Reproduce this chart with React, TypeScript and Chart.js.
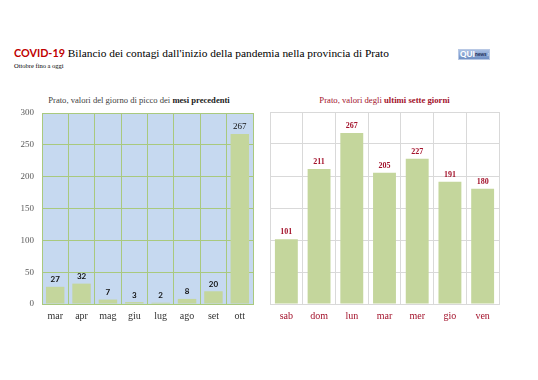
import React, { useEffect, useRef } from "react";
import { Chart, registerables } from "chart.js";
Chart.register(...registerables);

const monthLabels = ["mar", "apr", "mag", "giu", "lug", "ago", "set", "ott"];
const monthValues = [27, 32, 7, 3, 2, 8, 20, 267];
const dayLabels = ["sab", "dom", "lun", "mar", "mer", "gio", "ven"];
const dayValues = [101, 211, 267, 205, 227, 191, 180];
const yMax = 300;
const yStep = 50;

const SERIF = "'Liberation Serif', 'DejaVu Serif', serif";
const SANS = "Lato, 'Liberation Sans', sans-serif";
const RED = "#a3122b";
const BAR = "#c4d69c";

const plotBg = {
  id: "plotBg",
  beforeDraw(chart: any, _a: any, opts: any) {
    if (!opts || !opts.color) return;
    const { ctx, chartArea } = chart;
    ctx.save();
    ctx.fillStyle = opts.color;
    ctx.fillRect(chartArea.left, chartArea.top, chartArea.right - chartArea.left, chartArea.bottom - chartArea.top);
    ctx.restore();
  },
};

const valueLabels = {
  id: "valueLabels",
  afterDatasetsDraw(chart: any, _a: any, opts: any) {
    const { ctx } = chart;
    const meta = chart.getDatasetMeta(0);
    const data = chart.data.datasets[0].data;
    ctx.save();
    ctx.textAlign = "center";
    ctx.textBaseline = "bottom";
    meta.data.forEach((bar: any, i: number) => {
      ctx.font = typeof opts.font === "function" ? opts.font(i) : opts.font;
      ctx.fillStyle = opts.color;
      ctx.fillText(String(data[i]), bar.x, bar.y - 3);
    });
    ctx.restore();
  },
};

function BarChart(props: {
  labels: string[];
  values: number[];
  width: number;
  height: number;
  yWidth: number;
  showY: boolean;
  padRight: number;
  padTop: number;
  xHeight: number;
  gridColor: string;
  bg?: string;
  labelColor: string;
  tickColor: string;
  labelFont: any;
}) {
  const ref = useRef<HTMLCanvasElement>(null);
  useEffect(() => {
    const chart = new Chart(ref.current!, {
      type: "bar",
      data: {
        labels: props.labels,
        datasets: [
          {
            data: props.values,
            backgroundColor: BAR,
            borderWidth: 0,
            categoryPercentage: 0.7,
            barPercentage: 1,
          },
        ],
      },
      options: {
        animation: false,
        responsive: false,
        layout: { padding: { top: props.padTop, right: props.padRight, left: 0, bottom: 0 } },
        plugins: {
          legend: { display: false },
          tooltip: { enabled: false },
          plotBg: { color: props.bg },
          valueLabels: { font: props.labelFont, color: props.labelColor },
        } as any,
        scales: {
          x: {
            grid: { color: props.gridColor, lineWidth: 1, drawTicks: false, offset: true },
            border: { color: props.gridColor },
            ticks: {
              color: props.tickColor,
              font: { family: SERIF, size: 10 },
              padding: 6,
            },
            afterFit: (s: any) => {
              s.height = props.xHeight;
              s.paddingLeft = 0;
              s.paddingRight = 0;
            },
          },
          y: {
            min: 0,
            max: yMax,
            grid: { color: props.gridColor, lineWidth: 1, drawTicks: false },
            border: { color: props.gridColor },
            ticks: {
              display: props.showY,
              stepSize: yStep,
              color: "#595959",
              font: { family: SERIF, size: 9 },
              padding: 8,
            },
            afterFit: (s: any) => {
              s.width = props.yWidth;
              s.paddingTop = 0;
              s.paddingBottom = 0;
            },
          },
        },
      },
      plugins: [plotBg, valueLabels],
    });
    return () => chart.destroy();
  }, []);
  return <canvas ref={ref} width={props.width} height={props.height} style={{ width: props.width, height: props.height, display: "block" }} />;
}

export default function App() {
  return (
    <div style={{ position: "absolute", left: 0, top: 0, width: 538, height: 380, background: "#fff", overflow: "hidden" }}>
      <div style={{ position: "absolute", left: 14, top: 45, whiteSpace: "nowrap", lineHeight: "14px" }}>
        <span style={{ fontFamily: SANS, fontWeight: 700, color: "#c00000", fontSize: 10.8 }}>COVID-19</span>
        <span style={{ fontFamily: SERIF, color: "#000", fontSize: 11.4 }}> Bilancio dei contagi dall'inizio della pandemia nella provincia di Prato</span>
      </div>
      <div style={{ position: "absolute", left: 14, top: 62, fontFamily: SERIF, fontSize: 6.5, color: "#000", whiteSpace: "nowrap" }}>
        Ottobre fino a oggi
      </div>
      <div
        style={{
          position: "absolute",
          left: 458,
          top: 49,
          width: 32,
          height: 11,
          background: "linear-gradient(#a9bfe3, #6f8fc4)",
          border: "1px solid #b8c8e4",
          boxSizing: "border-box",
          display: "flex",
          alignItems: "center",
          whiteSpace: "nowrap",
          overflow: "hidden",
          paddingLeft: 1,
        }}
      >
        <span style={{ fontFamily: SANS, fontWeight: 900, fontSize: 8, lineHeight: "9px", color: "#fff" }}>QUI</span>
        <span style={{ fontFamily: SANS, fontWeight: 700, fontSize: 5, lineHeight: "9px", color: "#1c2b55" }}>news</span>
        <span style={{ fontFamily: SANS, fontSize: 5, lineHeight: "9px", color: "#dde6f5" }}>.net</span>
      </div>

      <div style={{ position: "absolute", left: 0, top: 95, width: 278, textAlign: "center", fontFamily: SERIF, fontSize: 8.6, color: "#404040", whiteSpace: "nowrap" }}>
        Prato, valori del giorno di picco dei <b style={{ color: "#222" }}>mesi precedenti</b>
      </div>
      <div style={{ position: "absolute", left: 270, top: 95, width: 229, textAlign: "center", fontFamily: SERIF, fontSize: 8.7, color: RED, whiteSpace: "nowrap" }}>
        Prato, valori degli <b>ultimi sette giorni</b>
      </div>

      <div style={{ position: "absolute", left: 7, top: 108 }}>
        <BarChart
          labels={monthLabels}
          values={monthValues}
          width={252}
          height={222}
          yWidth={35}
          showY={true}
          padRight={6}
          padTop={5}
          xHeight={26}
          gridColor="#a9c97e"
          bg="#c6d9f0"
          labelColor="#111"
          tickColor="#333"
          labelFont={(i: number) => (i === 7 ? `9px ${SERIF}` : `bold 8px ${SANS}`)}
        />
      </div>
      <div style={{ position: "absolute", left: 265, top: 108 }}>
        <BarChart
          labels={dayLabels}
          values={dayValues}
          width={240}
          height={222}
          yWidth={5}
          showY={false}
          padRight={6}
          padTop={4}
          xHeight={26}
          gridColor="#d9d9d9"
          labelColor={RED}
          tickColor={RED}
          labelFont={`bold 8px ${SERIF}`}
        />
      </div>
    </div>
  );
}
